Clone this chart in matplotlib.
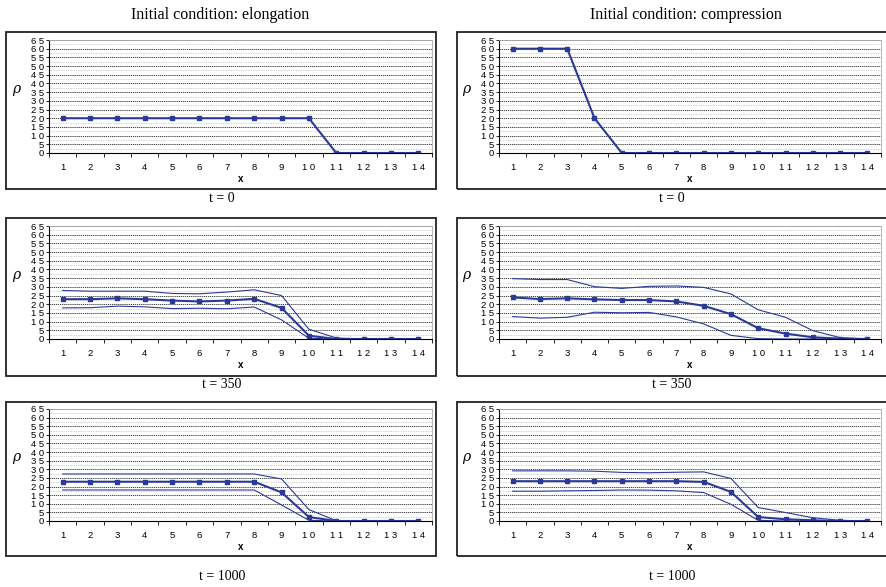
import matplotlib.pyplot as plt
from matplotlib.patches import Rectangle

x = list(range(1, 15))

# elongation
elong_t0 = [20, 20, 20, 20, 20, 20, 20, 20, 20, 20, 0, 0, 0, 0]
elong_350_mean = [22.9, 22.9, 23.4, 22.9, 22.1, 21.6, 22.1, 23.1, 17.9, 1.9, 0, 0, 0, 0]
elong_350_up = [27.9, 27.5, 27.5, 27.5, 26.2, 26.0, 27.0, 28.3, 25.0, 5.6, 0.6, 0, 0, 0]
elong_350_lo = [17.9, 18.0, 18.9, 18.5, 17.5, 17.7, 17.4, 18.4, 11.0, 0.4, 0, 0, 0, 0]
elong_1000_mean = [22.8, 22.8, 22.8, 22.8, 22.8, 22.8, 22.8, 22.8, 16.6, 2.3, 0, 0, 0, 0]
elong_1000_up = [27.3, 27.3, 27.3, 27.3, 27.3, 27.3, 27.3, 27.3, 24.4, 6.6, 0.2, 0, 0, 0]
elong_1000_lo = [18.0, 18.0, 18.0, 18.0, 18.0, 18.0, 18.0, 18.0, 9.3, 0.4, 0, 0, 0, 0]

# compression
comp_t0 = [60, 60, 60, 20, 0, 0, 0, 0, 0, 0, 0, 0, 0, 0]
comp_350_mean = [23.9, 23.0, 23.4, 22.8, 22.4, 22.4, 21.6, 19.1, 14.3, 6.2, 3.1, 1.0, 0.2, 0]
comp_350_up = [34.7, 34.2, 34.2, 30.1, 29.1, 30.3, 30.5, 29.7, 25.9, 16.8, 12.5, 4.8, 0.8, 0]
comp_350_lo = [12.9, 12.0, 12.5, 15.4, 15.1, 15.3, 12.7, 8.7, 2.1, 0.2, 0, 0, 0, 0]
comp_1000_mean = [23.1, 23.1, 23.1, 23.1, 23.1, 23.1, 23.1, 22.7, 16.9, 2.3, 1.0, 0.4, 0, 0]
comp_1000_up = [29.1, 29.1, 29.1, 28.9, 28.2, 28.0, 28.3, 28.5, 24.7, 7.8, 4.9, 1.9, 0.4, 0]
comp_1000_lo = [17.3, 17.3, 17.5, 17.7, 18.0, 17.9, 17.5, 16.5, 9.7, 0.4, 0, 0, 0, 0]

titles = ["Initial condition: elongation", "Initial condition: compression"]
captions = ["t = 0", "t = 350", "t = 1000"]

panels = [
    [(elong_t0, None, None), (comp_t0, None, None)],
    [(elong_350_mean, elong_350_up, elong_350_lo), (comp_350_mean, comp_350_up, comp_350_lo)],
    [(elong_1000_mean, elong_1000_up, elong_1000_lo), (comp_1000_mean, comp_1000_up, comp_1000_lo)],
]

W, H = 886, 587
fig = plt.figure(figsize=(W / 100, H / 100), dpi=100)
serif = "Liberation Serif"
sans = "Liberation Sans"
blue = "#2b3a96"

# pixel layout: (box top, box bottom, plot top, plot bottom, caption y)
rows = [(32, 189, 40, 153, 199), (218, 376, 226, 339, 384), (402, 556, 409, 521, 576)]
cols = [(6, 436, 49, 432, 222), (457, 892, 499, 881, 672)]


def spaced(v):
    return " ".join(str(v))


for r, (bt, bb, pt, pb, cy) in enumerate(rows):
    for c, (bl, br, pl, pr, cx) in enumerate(cols):
        fig.add_artist(Rectangle((bl / W, 1 - bb / H), (br - bl) / W, (bb - bt) / H,
                                 transform=fig.transFigure, fill=False, lw=1.3, ec="#222222"))
        ax = fig.add_axes([pl / W, 1 - pb / H, (pr - pl) / W, (pb - pt) / H])
        mean, up, lo = panels[r][c]
        if up is not None:
            ax.plot(x, up, color=blue, lw=0.8)
            ax.plot(x, lo, color=blue, lw=0.8)
        ax.plot(x, mean, color=blue, lw=1.5, marker="s", ms=2.6)

        ax.set_xlim(0.5, 14.5)
        ax.set_ylim(0, 65)
        ax.set_yticks(range(0, 70, 5))
        ax.set_yticklabels([spaced(v) for v in range(0, 70, 5)], fontsize=6.8, family=sans)
        ax.set_yticks([v + 2.5 for v in range(0, 65, 5)], minor=True)
        ax.set_xticks(x)
        ax.set_xticklabels([spaced(v) for v in x], fontsize=6.8, family=sans)
        ax.set_xticks([v + 0.5 for v in range(0, 15)], minor=True)
        ax.tick_params(axis="x", which="major", length=0, pad=7)
        ax.tick_params(axis="x", which="minor", length=3, direction="out", width=0.6)
        ax.tick_params(axis="y", which="major", length=2.5, width=0.6, pad=1)
        ax.tick_params(axis="y", which="minor", length=0)
        ax.grid(True, axis="y", which="major", color="#222222", ls=(0, (1.5, 1)), lw=0.6)
        ax.grid(True, axis="y", which="minor", color="#c4c4c4", ls=(0, (1, 1)), lw=0.6)
        ax.set_axisbelow(True)
        for s in ["top", "right"]:
            ax.spines[s].set_color("#aaaaaa")
            ax.spines[s].set_linewidth(0.6)
        ax.spines["left"].set_linewidth(0.8)
        ax.spines["bottom"].set_linewidth(0.8)
        ax.set_xlabel("x", fontsize=7, fontweight="bold", family=sans, labelpad=2)
        ax.text(-0.085, 0.57, "ρ", transform=ax.transAxes, fontsize=10,
                style="italic", family="DejaVu Serif", ha="center", va="center")

        fig.text(cx / W, 1 - cy / H, captions[r], fontsize=10, family=serif,
                 ha="center", va="center")

for c, cx in enumerate([220, 686]):
    fig.text(cx / W, 1 - 15 / H, titles[c], fontsize=11.5, family=serif,
             ha="center", va="center")

fig.savefig("out.png", dpi=100)
